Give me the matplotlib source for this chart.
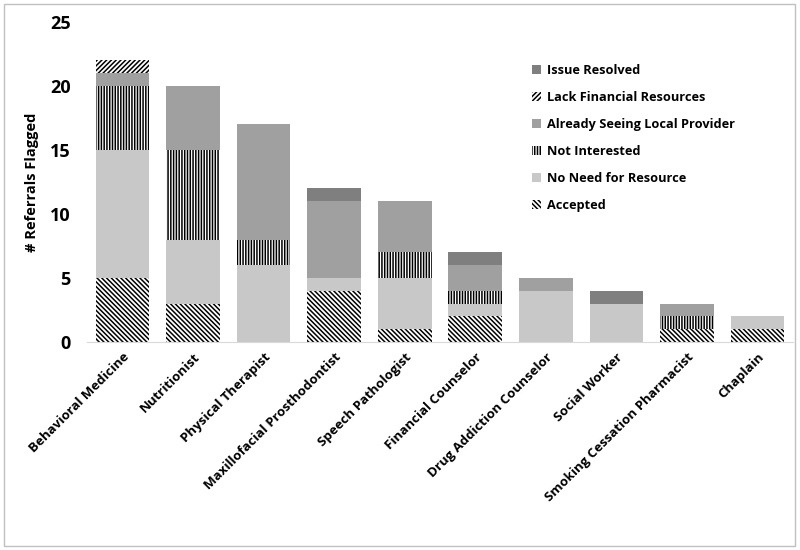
import matplotlib
matplotlib.use('Agg')
import matplotlib.pyplot as plt
from matplotlib.patches import Rectangle, Patch
import numpy as np

plt.rcParams['font.family'] = ['Open Sans', 'DejaVu Sans']
plt.rcParams['font.weight'] = 'bold'
plt.rcParams['hatch.linewidth'] = 1.1

# Data (stack order: bottom to top)
services = ["Behavioral Medicine", "Nutritionist", "Physical Therapist",
            "Maxillofacial Prosthodontist", "Speech Pathologist",
            "Financial Counselor", "Drug Addiction Counselor", "Social Worker",
            "Smoking Cessation Pharmacist", "Chaplain"]
accepted = [5, 3, 0, 4, 1, 2, 0, 0, 1, 1]
no_need = [10, 5, 6, 1, 4, 1, 4, 3, 0, 1]
not_interested = [5, 7, 2, 0, 2, 1, 0, 0, 1, 0]
already_seeing = [1, 5, 9, 6, 4, 2, 1, 0, 1, 0]
lack_financial = [1, 0, 0, 0, 0, 0, 0, 0, 0, 0]
issue_resolved = [0, 0, 0, 1, 0, 1, 0, 1, 0, 0]

series = [
    ("Accepted", accepted, dict(facecolor="white", edgecolor="black", hatch="\\" * 7)),
    ("No Need for Resource", no_need, dict(facecolor="#c8c8c8", edgecolor="#c8c8c8")),
    ("Not Interested", not_interested, dict(facecolor="white", edgecolor="black", hatch="|" * 6)),
    ("Already Seeing Local Provider", already_seeing, dict(facecolor="#a0a0a0", edgecolor="#a0a0a0")),
    ("Lack Financial Resources", lack_financial, dict(facecolor="white", edgecolor="black", hatch="/" * 7)),
    ("Issue Resolved", issue_resolved, dict(facecolor="#7f7f7f", edgecolor="#7f7f7f")),
]

fig = plt.figure(figsize=(8, 5.5), dpi=100)
ax = fig.add_axes([0.109, 0.378, 0.882, 0.582])

x = np.arange(len(services))
bottom = np.zeros(len(services))
handles = []
for name, vals, style in series:
    vals = np.array(vals, dtype=float)
    ax.bar(x, vals, 0.76, bottom=bottom, linewidth=0, **style)
    bottom += vals
    handles.append(Patch(linewidth=0, label=name, **style))

ax.set_xlim(-0.5, len(services) - 0.5)
ax.set_ylim(0, 25)
ax.set_yticks([0, 5, 10, 15, 20, 25])
ax.tick_params(axis='y', length=0, pad=12, labelsize=13)
ax.tick_params(axis='x', length=0, pad=6, labelsize=9.5)
ax.set_xticks(x)
ax.set_xticklabels(services, rotation=45, ha='right', rotation_mode='anchor')
for s in ['top', 'right', 'left']:
    ax.spines[s].set_visible(False)
ax.spines['bottom'].set_color('#d9d9d9')
ax.set_ylabel("# Referrals Flagged", fontsize=10.5, fontweight='bold', labelpad=8)

leg = ax.legend(handles[::-1], [h.get_label() for h in handles[::-1]],
                loc='upper right', bbox_to_anchor=(0.935, 0.905), frameon=False,
                fontsize=9.2, handlelength=0.7, handleheight=0.7,
                handletextpad=0.5, labelspacing=1.1)

# figure border
fig.patches.append(Rectangle((4 / 800, 4 / 550), 791 / 800, 542 / 550,
                             transform=fig.transFigure, fill=False,
                             edgecolor='#c0c0c0', linewidth=1))

fig.savefig("out.png", dpi=100)
